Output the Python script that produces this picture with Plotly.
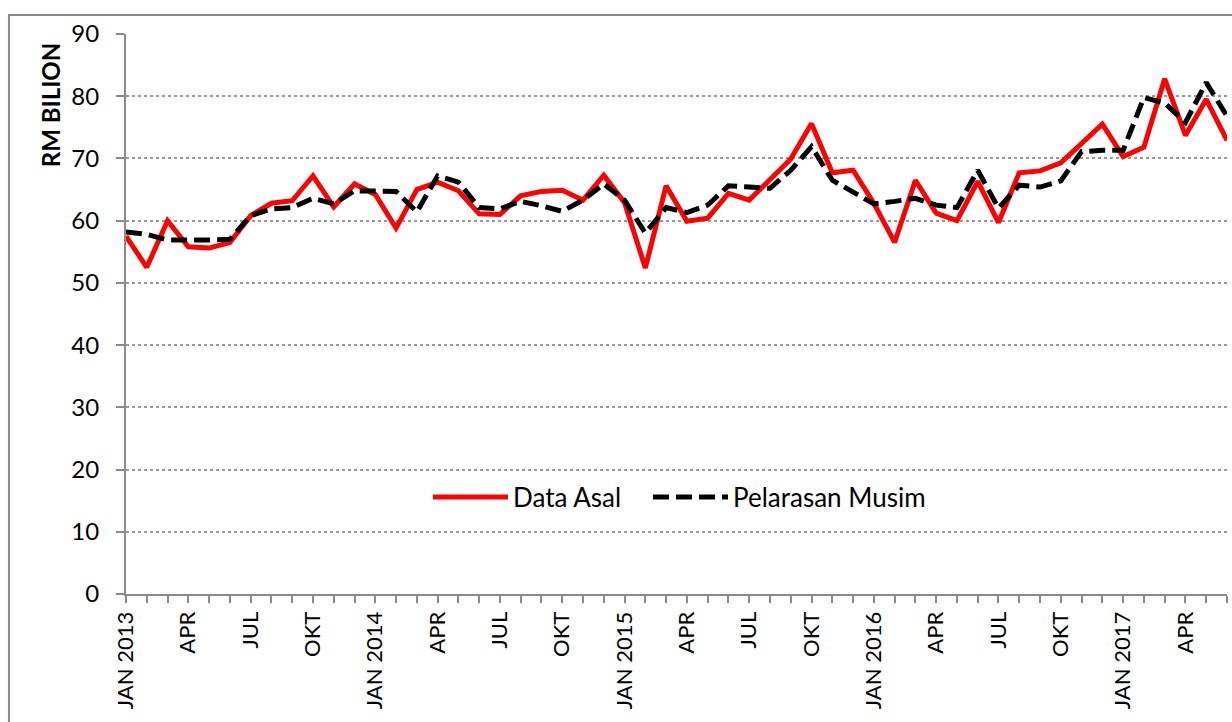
import plotly.graph_objects as go

# months Jan 2013 .. Jun 2017
MONTH_NAMES = ["JAN", "FEB", "MAC", "APR", "MEI", "JUN", "JUL", "OGO", "SEP", "OKT", "NOV", "DIS"]
YEARS = [2013, 2014, 2015, 2016, 2017]
months = [f"{m} {y}" for y in YEARS for m in MONTH_NAMES][:54]

tick_labels = [
    "JAN 2013", "APR", "JUL", "OKT",
    "JAN 2014", "APR", "JUL", "OKT",
    "JAN 2015", "APR", "JUL", "OKT",
    "JAN 2016", "APR", "JUL", "OKT",
    "JAN 2017", "APR",
]

data_asal = [
    57.5, 52.5, 60.0, 55.8, 55.6, 56.5, 60.8, 62.8, 63.2, 67.2, 62.2, 65.9,
    64.2, 58.8, 65.0, 66.2, 64.8, 61.1, 61.0, 64.0, 64.7, 64.9, 63.3, 67.3,
    62.9, 52.4, 65.6, 59.9, 60.4, 64.4, 63.3, 66.5, 69.9, 75.6, 67.7, 68.1,
    62.8, 56.5, 66.5, 61.2, 60.0, 66.3, 59.7, 67.7, 68.0, 69.3, 72.5, 75.5,
    70.3, 71.8, 82.8, 73.7, 79.5, 72.9,
]
pelarasan_musim = [
    58.2, 57.8, 56.9, 56.8, 56.9, 57.0, 60.8, 61.9, 62.1, 63.6, 62.7, 64.8,
    64.7, 64.7, 61.4, 67.2, 66.2, 62.1, 61.9, 63.1, 62.4, 61.5, 63.3, 65.9,
    63.3, 58.0, 62.1, 61.3, 62.5, 65.6, 65.4, 65.2, 68.1, 71.9, 66.5, 64.7,
    62.7, 63.1, 63.6, 62.5, 62.1, 68.1, 62.0, 65.7, 65.4, 66.4, 71.1, 71.3,
    71.3, 79.8, 78.9, 75.8, 82.2, 76.8,
]

FONT = "Lato, 'Open Sans', sans-serif"
AXIS_GREY = "#8a8a8a"

ticktext = []
for i, _ in enumerate(months):
    ticktext.append(tick_labels[i // 3] if i % 3 == 0 else "")

fig = go.Figure()
fig.add_trace(
    go.Scatter(
        x=months,
        y=data_asal,
        mode="lines",
        name="Data Asal",
        line={"color": "#ff0000", "width": 5},
        legend="legend",
    )
)
fig.add_trace(
    go.Scatter(
        x=months,
        y=pelarasan_musim,
        mode="lines",
        name="Pelarasan Musim",
        line={"color": "#000000", "width": 5, "dash": "16px,7px"},
        legend="legend2",
    )
)

# outer chart frame (cut off at right and bottom like the source)
fig.add_shape(
    type="rect", xref="paper", yref="paper",
    x0=-0.1063, x1=1.02, y0=-0.30, y1=1.0339,
    line={"color": AXIS_GREY, "width": 2},
    layer="below",
)
fig.add_annotation(
    text="<b>RM BILION</b>",
    xref="paper", yref="paper",
    x=-0.069, y=0.873,
    xanchor="center", yanchor="middle",
    textangle=-90,
    showarrow=False,
    font={"family": FONT, "size": 24, "color": "#000000"},
)

legend_style = {
    "orientation": "h",
    "y": 0.173,
    "xanchor": "left",
    "yanchor": "middle",
    "bgcolor": "rgba(0,0,0,0)",
    "font": {"family": FONT, "size": 26},
    "itemwidth": 75,
}

fig.update_layout(
    width=1232,
    height=722,
    paper_bgcolor="white",
    plot_bgcolor="white",
    margin={"l": 126, "r": 5, "t": 34, "b": 128},
    font={"family": FONT, "color": "#000000"},
    showlegend=True,
    legend={**legend_style, "x": (428 - 126) / 1101},
    legend2={**legend_style, "x": (648 - 126) / 1101},
)
fig.update_xaxes(
    type="category",
    range=[0, len(months) - 1],
    tickmode="array",
    tickvals=months,
    ticktext=ticktext,
    tickangle=-90,
    ticks="outside",
    ticklen=7,
    tickwidth=2,
    tickcolor=AXIS_GREY,
    tickfont={"family": FONT, "size": 22},
    showline=True,
    linecolor=AXIS_GREY,
    linewidth=2,
    showgrid=False,
    zeroline=False,
)
fig.update_yaxes(
    range=[0, 90],
    dtick=10,
    ticks="outside",
    ticklen=8,
    tickwidth=2,
    tickcolor=AXIS_GREY,
    ticklabelstandoff=12,
    tickfont={"family": FONT, "size": 24},
    showline=True,
    linecolor=AXIS_GREY,
    linewidth=2,
    showgrid=True,
    gridcolor="#9a9a9a",
    gridwidth=1.5,
    griddash="dot",
    zeroline=False,
)

fig.write_html(
    "out.html",
    config={"displayModeBar": False},
    post_script="document.body.style.margin='0';document.body.style.overflow='hidden';",
)
